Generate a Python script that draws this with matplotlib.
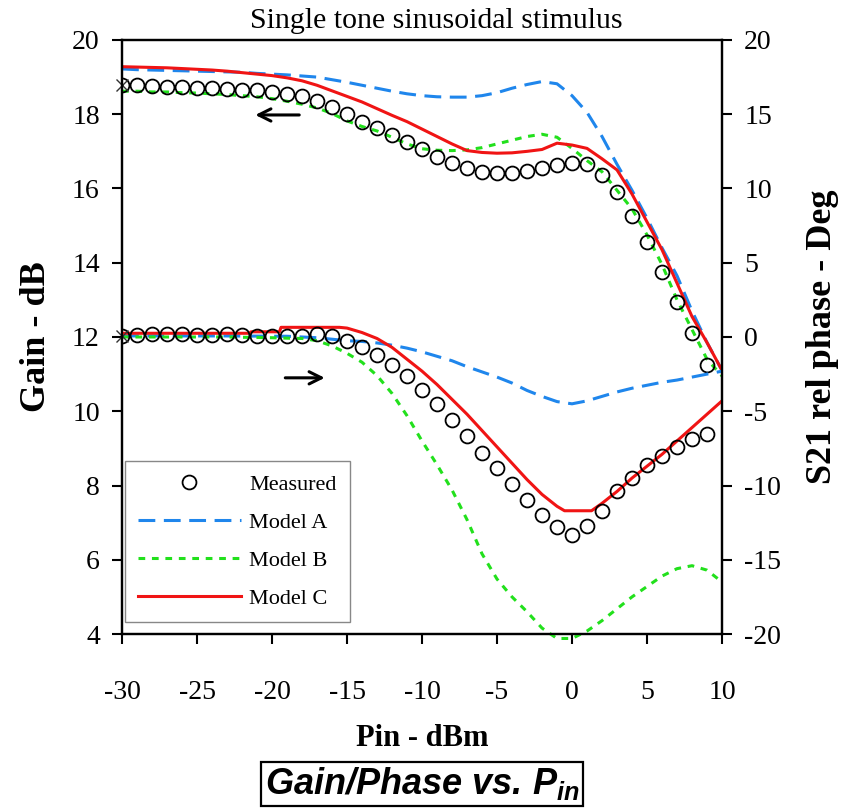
import matplotlib
matplotlib.use("Agg")
import matplotlib.pyplot as plt
from matplotlib.lines import Line2D

plt.rcParams["font.family"] = ["Liberation Serif", "DejaVu Serif"]
plt.rcParams["axes.unicode_minus"] = False
plt.rcParams["mathtext.fontset"] = "custom"
plt.rcParams["mathtext.it"] = "Liberation Sans:italic:bold"
plt.rcParams["mathtext.rm"] = "Liberation Sans:bold"

# ---------------------------------------------------------------------------
# Data
# ---------------------------------------------------------------------------
pin_meas = [-30, -29, -28, -27, -26, -25, -24, -23, -22, -21, -20, -19, -18, -17,
            -16, -15, -14, -13, -12, -11, -10, -9, -8, -7, -6, -5, -4, -3, -2, -1,
            0, 1, 2, 3, 4, 5, 6, 7, 8, 9]
gain_meas = [18.8, 18.78, 18.75, 18.72, 18.72, 18.7, 18.7, 18.68, 18.66, 18.65,
             18.6, 18.55, 18.5, 18.35, 18.2, 18.0, 17.8, 17.62, 17.45, 17.25,
             17.05, 16.85, 16.68, 16.54, 16.45, 16.42, 16.42, 16.48, 16.56, 16.63,
             16.68, 16.66, 16.35, 15.9, 15.25, 14.55, 13.75, 12.95, 12.1, 11.25]
phase_meas = [0.1, 0.15, 0.2, 0.2, 0.2, 0.15, 0.15, 0.2, 0.15, 0.1,
              0.1, 0.05, 0.1, 0.2, 0.05, -0.3, -0.7, -1.2, -1.9, -2.6,
              -3.6, -4.5, -5.6, -6.7, -7.8, -8.8, -9.9, -11.0, -12.0, -12.8,
              -13.3, -12.7, -11.7, -10.4, -9.5, -8.6, -8.0, -7.4, -6.9, -6.5]

pin_model = [-30, -29, -28, -27, -26, -25, -24, -23, -22, -21, -20, -19, -18, -17,
             -16, -15, -14, -13, -12, -11, -10, -9, -8, -7, -6, -5, -4, -3, -2, -1,
             0, 1, 2, 3, 4, 5, 6, 7, 8, 9, 10]

gain_a = [19.22, 19.2, 19.19, 19.18, 19.17, 19.16, 19.15, 19.14, 19.13, 19.1,
          19.08, 19.06, 19.03, 19.0, 18.93, 18.86, 18.78, 18.7, 18.62, 18.55,
          18.5, 18.47, 18.46, 18.46, 18.5, 18.58, 18.7, 18.8, 18.88, 18.82,
          18.5, 18.05, 17.4, 16.65, 15.95, 15.2, 14.4, 13.65, 12.7, 11.85, 11.1]
gain_b = [18.62, 18.62, 18.6, 18.6, 18.58, 18.57, 18.55, 18.53, 18.5, 18.47,
          18.42, 18.35, 18.27, 18.17, 18.02, 17.82, 17.67, 17.55, 17.38, 17.2,
          17.07, 17.03, 17.02, 17.04, 17.1, 17.2, 17.3, 17.4, 17.46, 17.38,
          17.08, 16.75, 16.45, 15.95, 15.45, 14.75, 13.95, 13.0, 12.2, 11.4, 10.95]
gain_c = [19.28, 19.27, 19.26, 19.25, 19.23, 19.21, 19.19, 19.16, 19.12, 19.08,
          19.04, 18.98, 18.9, 18.78, 18.63, 18.48, 18.33, 18.15, 17.97, 17.8,
          17.6, 17.4, 17.2, 17.02, 16.97, 16.95, 16.96, 17.0, 17.05, 17.22,
          17.17, 17.08, 16.8, 16.5, 15.85, 15.1, 14.35, 13.45, 12.55, 11.85, 11.1]

phase_a = [0.07, 0.07, 0.07, 0.07, 0.07, 0.07, 0.07, 0.07, 0.06, 0.06,
           0.05, 0.05, 0.0, -0.05, -0.15, -0.25, -0.3, -0.4, -0.55, -0.75,
           -1.0, -1.3, -1.6, -2.0, -2.35, -2.7, -3.1, -3.6, -4.0, -4.35,
           -4.5, -4.3, -4.0, -3.7, -3.45, -3.25, -3.05, -2.9, -2.7, -2.5, -2.3]
phase_b = [0.0, 0.0, 0.0, 0.0, 0.0, 0.0, 0.0, 0.0, -0.02, -0.03,
           -0.05, -0.08, -0.1, -0.25, -0.6, -1.1, -1.7, -2.6, -3.8, -5.3,
           -7.0, -8.6, -10.3, -12.3, -14.6, -16.3, -17.5, -18.5, -19.6, -20.3,
           -20.3, -19.8, -19.1, -18.3, -17.5, -16.8, -16.1, -15.6, -15.4, -15.7, -16.5]

pin_c_phase = [-30, -25, -21.5, -21.4, -19.5, -19.4, -15.5, -15, -14, -13, -12,
               -11, -10, -9, -8, -7, -6, -5, -4, -3, -2, -1, -0.5, 1.3, 2, 3, 4,
               5, 6, 7, 8, 9, 10]
phase_c = [0.25, 0.25, 0.25, 0.35, 0.35, 0.65, 0.65, 0.6, 0.3, -0.1, -0.7,
           -1.5, -2.3, -3.2, -4.2, -5.2, -6.3, -7.4, -8.5, -9.6, -10.6, -11.4, -11.7,
           -11.7, -11.2, -10.4, -9.5, -8.7, -7.9, -7.0, -6.1, -5.2, -4.3]

x_ticks = [-30, -25, -20, -15, -10, -5, 0, 5, 10]
gain_ticks = [4, 6, 8, 10, 12, 14, 16, 18, 20]
phase_ticks = [-20, -15, -10, -5, 0, 5, 10, 15, 20]

BLUE = "#1f86ec"
GREEN = "#22e01c"
RED = "#f01414"

# ---------------------------------------------------------------------------
# Figure
# ---------------------------------------------------------------------------
fig = plt.figure(figsize=(8.42, 8.09), dpi=100)
ax = fig.add_axes([0.1449, 0.2163, 0.7126, 0.7343])
ax2 = ax.twinx()

dash_a = (0, (5.5, 2.8))
dash_b = (0, (2.2, 2.2))

# gain curves (left axis)
ax.plot(pin_model, gain_a, color=BLUE, lw=2.2, ls=dash_a)
ax.plot(pin_model, gain_b, color=GREEN, lw=2.2, ls=dash_b)
ax.plot(pin_model, gain_c, color=RED, lw=2.2)
ax.plot(pin_meas, gain_meas, ls="none", marker="o", ms=10, mfc="none",
        mec="black", mew=1.3)
ax.plot(pin_meas[0], gain_meas[0], ls="none", marker="x", ms=9, color="#333333",
        clip_on=False)

# phase curves (right axis)
ax2.plot(pin_model, phase_a, color=BLUE, lw=2.2, ls=dash_a)
ax2.plot(pin_model, phase_b, color=GREEN, lw=2.2, ls=dash_b, clip_on=False)
ax2.plot(pin_c_phase, phase_c, color=RED, lw=2.2)
ax2.plot(pin_meas, phase_meas, ls="none", marker="o", ms=10, mfc="none",
         mec="black", mew=1.3)
ax2.plot(pin_meas[0], phase_meas[0], ls="none", marker="x", ms=9, color="#333333",
         clip_on=False)

# arrows telling which axis each group belongs to
ax.annotate("", xy=(-21.3, 17.98), xytext=(-18.0, 17.98),
            arrowprops=dict(arrowstyle="->", lw=2.2, color="black",
                            mutation_scale=22))
ax.annotate("", xy=(-16.3, 10.9), xytext=(-19.3, 10.9),
            arrowprops=dict(arrowstyle="->", lw=2.2, color="black",
                            mutation_scale=22))

# axes limits / ticks
ax.set_xlim(-30, 10)
ax.set_ylim(4, 20)
ax2.set_ylim(-20, 20)
ax.set_xticks(x_ticks)
ax.set_yticks(gain_ticks)
ax2.set_yticks(phase_ticks)
for a in (ax, ax2):
    a.tick_params(direction="out", length=7, width=1.5, labelsize=20, pad=9)
    for s in a.spines.values():
        s.set_linewidth(1.6)
ax.tick_params(axis="x", pad=26)

ax.set_xlabel("Pin - dBm", fontsize=22, fontweight="bold", labelpad=14)
ax.set_ylabel("Gain - dB", fontsize=26, fontweight="bold", labelpad=14)
ax2.set_ylabel("S21 rel phase - Deg", fontsize=26, fontweight="bold", labelpad=18)

fig.text(0.518, 0.974, "Single tone sinusoidal stimulus", ha="center",
         va="center", fontsize=21.5)

# legend
handles = [
    Line2D([], [], ls="none", marker="o", ms=10, mfc="none", mec="black", mew=1.3),
    Line2D([], [], color=BLUE, lw=2.2, ls=dash_a),
    Line2D([], [], color=GREEN, lw=2.2, ls=dash_b),
    Line2D([], [], color=RED, lw=2.2),
]
labels = ["Measured", "Model A", "Model B", "Model C"]
leg = ax2.legend(handles, labels, loc="lower left", bbox_to_anchor=(0.005, 0.02),
                 borderaxespad=0, fontsize=16, handlelength=4.6, labelspacing=0.78,
                 fancybox=False, framealpha=1, edgecolor="#888888",
                 borderpad=0.6, handletextpad=0.4)
leg.get_frame().set_linewidth(1.0)

# caption box below the chart
fig.text(0.501, 0.031, r"Gain/Phase vs. $P_{in}$", ha="center", va="center",
         fontsize=26, family="Liberation Sans", fontweight="bold", style="italic",
         bbox=dict(boxstyle="square,pad=0.1", fc="white", ec="black", lw=1.6))

fig.savefig("out.png", dpi=100)
